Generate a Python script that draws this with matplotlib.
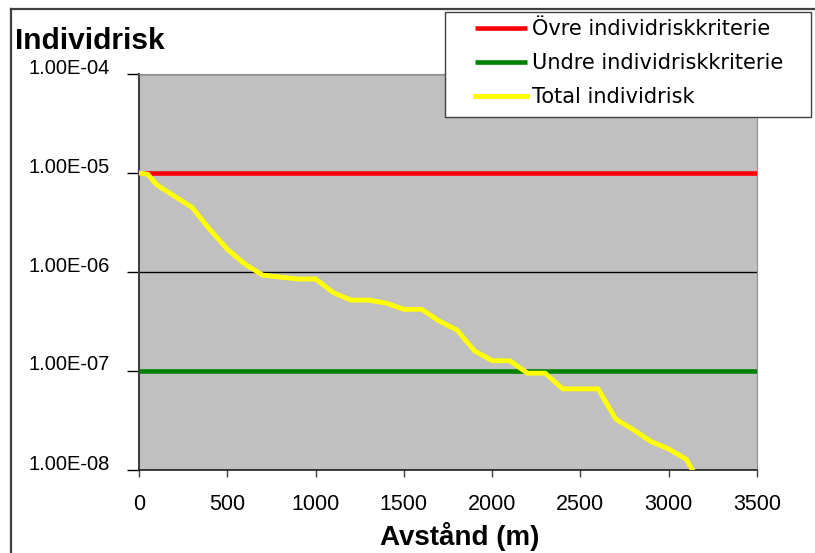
import matplotlib
matplotlib.use("Agg")
import matplotlib.pyplot as plt
import matplotlib.transforms as mtransforms
from matplotlib.patches import Rectangle
from matplotlib.lines import Line2D

# ---- data ----
distance = [0, 50, 100, 300, 400, 500, 600, 700, 900, 1000, 1100, 1200, 1300, 1400,
            1500, 1600, 1700, 1800, 1900, 2000, 2100, 2200, 2300, 2400, 2600, 2700,
            2800, 2900, 3000, 3100, 3200]
total_risk = [1.0e-5, 9.7e-6, 7.6e-6, 4.5e-6, 2.7e-6, 1.7e-6, 1.2e-6, 9.3e-7, 8.5e-7, 8.5e-7,
              6.2e-7, 5.2e-7, 5.2e-7, 4.85e-7, 4.2e-7, 4.2e-7, 3.2e-7, 2.6e-7, 1.6e-7,
              1.27e-7, 1.27e-7, 9.5e-8, 9.5e-8, 6.6e-8, 6.6e-8, 3.27e-8, 2.55e-8,
              1.94e-8, 1.63e-8, 1.28e-8, 6.2e-9]
criteria_x = [0, 3500]
upper_criterion = [1e-5, 1e-5]
lower_criterion = [1e-7, 1e-7]
labels = ["Övre individriskkriterie", "Undre individriskkriterie", "Total individrisk"]
x_ticks = [0, 500, 1000, 1500, 2000, 2500, 3000, 3500]
y_ticks = [1e-8, 1e-7, 1e-6, 1e-5, 1e-4]
y_ticklabels = ["1.00E-08", "1.00E-07", "1.00E-06", "1.00E-05", "1.00E-04"]

W, H = 815, 553
fig = plt.figure(figsize=(W / 100, H / 100), dpi=100)
fig.patch.set_facecolor("white")

ax = fig.add_axes([139 / W, 1 - 470 / H, (757 - 139) / W, (470 - 74) / H])
ax.set_facecolor("#C0C0C0")
ax.set_yscale("log")
ax.set_xlim(0, 3500)
ax.set_ylim(1e-8, 1e-4)

ax.yaxis.grid(True, which="major", color="black", linewidth=1.0)
ax.set_axisbelow(True)

l1, = ax.plot(criteria_x, upper_criterion, color="#FF0000", linewidth=3.3, solid_capstyle="butt", zorder=3)
l2, = ax.plot(criteria_x, lower_criterion, color="#008000", linewidth=3.3, solid_capstyle="butt", zorder=3)
l3, = ax.plot(distance, total_risk, color="#FFFF00", linewidth=3.5, solid_joinstyle="miter", zorder=4)

ax.set_xticks(x_ticks)
ax.set_xticklabels([str(v) for v in x_ticks], fontsize=15.5, family="Liberation Sans")
ax.set_yticks(y_ticks)
ax.set_yticklabels(y_ticklabels, fontsize=14.5, family="Liberation Sans")
ax.yaxis.set_minor_locator(matplotlib.ticker.NullLocator())
ax.tick_params(axis="x", direction="out", length=5, width=1, color="#404040", pad=12)
ax.tick_params(axis="y", direction="out", length=9, width=1, color="black", pad=12)

offset = mtransforms.ScaledTranslation(0, 0.08, fig.dpi_scale_trans)
for lab in ax.get_yticklabels():
    lab.set_transform(lab.get_transform() + offset)

for side in ["top", "right"]:
    ax.spines[side].set_color("#909090")
    ax.spines[side].set_linewidth(0.8)
ax.spines["left"].set_color("#404040")
ax.spines["left"].set_linewidth(1.5)
ax.spines["bottom"].set_color("#202020")
ax.spines["bottom"].set_linewidth(1.2)

# titles
fig.text(15 / W, 1 - 49.5 / H, "Individrisk", fontsize=21.5, fontweight="bold",
         family="Liberation Sans", ha="left", va="baseline")
fig.text(460 / W, 1 - 545 / H, "Avstånd (m)", fontsize=20, fontweight="bold",
         family="Liberation Sans", ha="center", va="baseline")

# outer border
fig.add_artist(Line2D([11 / W, 11 / W], [0, 1 - 9 / H], color="#404040", linewidth=1.6))
fig.add_artist(Line2D([11 / W, 1], [1 - 9 / H, 1 - 9 / H], color="#404040", linewidth=1.6))

# legend box
box = Rectangle((445 / W, 1 - 117 / H), (811 - 445) / W, (117 - 12) / H,
                transform=fig.transFigure, facecolor="white", edgecolor="#404040",
                linewidth=1.0, zorder=5)
fig.add_artist(box)
leg = fig.legend([l1, l2, l3], labels, loc="upper left",
                 bbox_to_anchor=(475 / W, 1 - 19 / H), bbox_transform=fig.transFigure,
                 frameon=False, borderpad=0, borderaxespad=0,
                 handlelength=2.5, handletextpad=0.25, labelspacing=0.68,
                 prop={"family": "DejaVu Sans", "size": 15})
leg.set_zorder(6)

fig.savefig("out.png", dpi=100)
